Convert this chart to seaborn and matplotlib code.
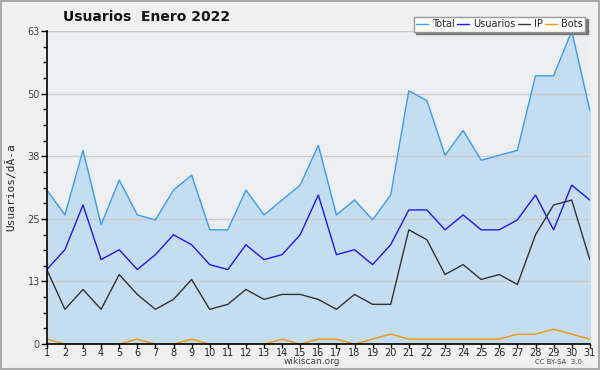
import numpy as np
import pandas as pd
import matplotlib
matplotlib.use('Agg')
import matplotlib.pyplot as plt
import seaborn as sns
from matplotlib.ticker import FixedLocator, MultipleLocator

# Datos
dias = list(range(1, 32))
total = [31, 26, 39, 24, 33, 26, 25, 31, 34, 23, 23, 31, 26, 29, 32, 40,
         26, 29, 25, 30, 51, 49, 38, 43, 37, 38, 39, 54, 54, 63, 47]
usuarios = [15, 19, 28, 17, 19, 15, 18, 22, 20, 16, 15, 20, 17, 18, 22, 30,
            18, 19, 16, 20, 27, 27, 23, 26, 23, 23, 25, 30, 23, 32, 29]
ip = [15, 7, 11, 7, 14, 10, 7, 9, 13, 7, 8, 11, 9, 10, 10, 9,
      7, 10, 8, 8, 23, 21, 14, 16, 13, 14, 12, 22, 28, 29, 17]
bots = [1, 0, 0, 0, 0, 1, 0, 0, 1, 0, 0, 0, 0, 1, 0, 1,
        1, 0, 1, 2, 1, 1, 1, 1, 1, 1, 2, 2, 3, 2, 1]
ytick_vals = [0, 12.6, 25.2, 37.8, 50.4, 63]
ytick_labels = ['0', '13', '25', '38', '50', '63']

df = pd.DataFrame({'dia': dias, 'Total': total, 'Usuarios': usuarios,
                   'IP': ip, 'Bots': bots})

sns.set_style('white')
plt.rcParams['font.family'] = ['DejaVu Sans']

fig = plt.figure(figsize=(6, 3.7), dpi=100, facecolor='#f0f0f0')
ax = fig.add_axes([0.078, 0.070, 0.905, 0.846])
ax.set_facecolor('#eceef0')

ax.fill_between(df['dia'], 0, df['Total'], color='#c5ddf1', zorder=1)

colores = {'Total': '#3d9df5', 'Usuarios': '#1a1aff', 'IP': '#333333', 'Bots': '#f5950f'}
for col in ['Total', 'Usuarios', 'IP', 'Bots']:
    sns.lineplot(data=df, x='dia', y=col, ax=ax, color=colores[col],
                 linewidth=1.0, label=col, zorder=3)

ax.set_xlim(1, 31)
ax.set_ylim(0, 63)
ax.set_xticks(dias)
ax.set_xticklabels([str(d) for d in dias])
ax.yaxis.set_major_locator(FixedLocator(ytick_vals))
ax.set_yticklabels(ytick_labels)
ax.yaxis.set_minor_locator(MultipleLocator(63 / 20))
ax.grid(axis='y', which='major', color='#cccccc', linewidth=1, zorder=2)
ax.set_axisbelow(False)

for s in ['top', 'right']:
    ax.spines[s].set_visible(False)
for s in ['left', 'bottom']:
    ax.spines[s].set_color('black')
    ax.spines[s].set_linewidth(1.2)
    ax.spines[s].set_zorder(5)

ax.tick_params(axis='x', which='major', bottom=True, length=3, width=1, color='black',
               labelsize=7, pad=0, labelcolor='#222222')
ax.tick_params(axis='y', which='both', left=True)
ax.tick_params(axis='y', which='major', length=4, width=1, color='black',
               labelsize=7, pad=1, labelcolor='#444444')
ax.tick_params(axis='y', which='minor', length=3, width=1, color='black')

ax.set_xlabel('')
ax.set_ylabel('Usuarios/dÃ-a', family='DejaVu Sans Mono', fontsize=8, labelpad=8)

fig.text(0.245, 0.955, 'Usuarios  Enero 2022', fontsize=10, fontweight='bold',
         ha='center', va='center', color='#111111')
fig.text(0.52, 0.022, 'wikiscan.org', fontsize=6.5, ha='center', va='center', color='#444444')
fig.text(0.97, 0.022, 'CC BY-SA  3.0', fontsize=5, ha='right', va='center', color='#444444')

leg = ax.legend(loc='upper right', bbox_to_anchor=(0.975, 0.955),
                bbox_transform=fig.transFigure, ncol=4, fontsize=7,
                frameon=True, fancybox=False, shadow={'color': '#777777', 'alpha': 1},
                handlelength=1.2, handletextpad=0.4, columnspacing=0.3,
                borderpad=0.25, borderaxespad=0)
leg.get_frame().set_edgecolor('#999999')
leg.get_frame().set_facecolor('white')
leg.get_frame().set_linewidth(1)
leg.set_zorder(10)

# borde gris de la figura
fig.patches.append(plt.Rectangle((0.001, 0.002), 0.997, 0.995, transform=fig.transFigure,
                                 fill=False, edgecolor='#aaaaaa', linewidth=1.5))

fig.savefig('out.png', dpi=100, facecolor=fig.get_facecolor())
